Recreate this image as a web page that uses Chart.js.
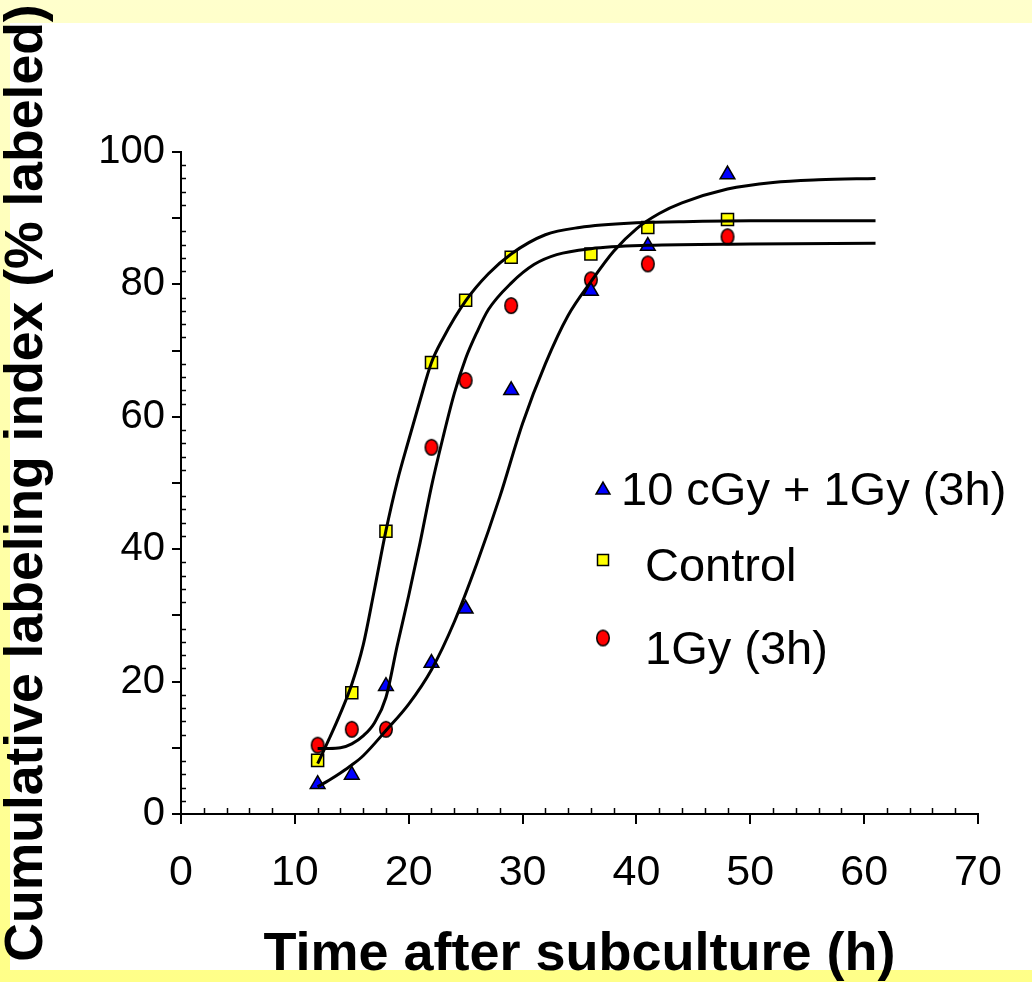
<!DOCTYPE html>
<html><head><meta charset="utf-8">
<script src="https://cdn.jsdelivr.net/npm/chart.js@4/dist/chart.umd.min.js"></script>
<style>html,body{margin:0;padding:0;background:#fff}#wrap{width:1032px;height:982px;position:relative}</style>
</head><body><div id="wrap"><canvas id="c" width="1032" height="982"></canvas></div>
<script>
// ---- data ----
const pointTimes = [12, 15, 18, 22, 25, 29, 36, 41, 48];
const combinedValues = [4.5, 5.9, 19.3, 22.8, 31.0, 64.0, 79.0, 85.8, 96.6];
const controlValues = [8.1, 18.3, 42.7, 68.2, 77.6, 84.1, 84.6, 88.6, 89.8];
const oneGyValues = [10.4, 12.8, 12.8, 55.4, 65.5, 76.8, 80.7, 83.1, 87.2];

const controlFitX = [12,13,14,15,16,17,18,19,20,21,22,23,25,27,29,32,35,40,45,50,55,61];
const controlFitY = [7.6,11.3,15.2,19.6,25.5,34,42.8,50.3,56.5,62.5,68.2,71.8,77.5,81.6,84.6,87.5,88.6,89.3,89.5,89.6,89.6,89.6];
const oneGyFitX = [12,13,14,15,16,17,18,19,20,21,22,23,24,25,26,27,29,31,33,36,41,50,61];
const oneGyFitY = [9.9,9.9,10,10.6,11.8,13.8,17.6,25.5,33,41,49.5,56.8,63.5,68.8,72.8,76.2,80.2,83,84.5,85.4,85.9,86.1,86.2];
const combinedFitX = [12,13,14,15,16,18,20,22,24,26,28,30,32,34,36,38,40,42,44,48,52,56,61];
const combinedFitY = [4.1,5.1,6.2,7.4,8.8,12.6,16.6,21.8,29,37.9,47.9,59,68,75.3,80.4,85,88.4,90.7,92.3,94.4,95.4,95.8,96];

const seriesLabels = ['10 cGy + 1Gy (3h)', 'Control', '1Gy (3h)'];
const xTickLabels = [0,10,20,30,40,50,60,70];
const yTickLabels = [0,20,40,60,80,100];

// ---- styles ----
const FONT = '"Liberation Sans", Arial, Helvetica, sans-serif';
Chart.defaults.font.family = FONT;
Chart.defaults.color = '#000';

function makeEllipse(w, h, fill) {
  const c = document.createElement('canvas');
  c.width = w + 4; c.height = h + 4;
  const g = c.getContext('2d');
  g.beginPath();
  g.ellipse(c.width / 2, c.height / 2, w / 2, h / 2, 0, 0, Math.PI * 2);
  g.fillStyle = fill; g.fill();
  g.lineWidth = 1.5; g.strokeStyle = '#000'; g.stroke();
  return c;
}
const redEllipse = makeEllipse(12.5, 15.5, '#ff0000');

const toXY = (xs, ys) => xs.map((x, i) => ({x, y: ys[i]}));

const scatterBase = {showLine: false, borderColor: '#000', borderWidth: 1.5, order: 2};
const lineBase = {showLine: true, pointRadius: 0, borderColor: '#000', borderWidth: 3,
  cubicInterpolationMode: 'monotone', fill: false, order: 1};

const bgPlugin = {
  id: 'bg',
  beforeDraw(chart) {
    const {ctx, width, height} = chart;
    ctx.save();
    const g = ctx.createLinearGradient(0, 0, 0, height);
    g.addColorStop(0, '#ffffcc');
    g.addColorStop(1, '#ffff88');
    ctx.fillStyle = g;
    ctx.fillRect(0, 0, width, height);
    ctx.fillStyle = '#ffffff';
    ctx.fillRect(10, 23, width - 10, 970 - 23);
    ctx.restore();
  }
};

const minorTicks = {
  id: 'minorTicks',
  afterDraw(chart) {
    const {ctx, scales: {x, y}, chartArea} = chart;
    ctx.save();
    ctx.strokeStyle = '#000';
    ctx.lineWidth = 1.5;
    for (let v = 2; v < 70; v += 2) {
      if (v % 10 === 0) continue;
      const px = Math.round(x.getPixelForValue(v)) + 0.5;
      ctx.beginPath(); ctx.moveTo(px, chartArea.bottom); ctx.lineTo(px, chartArea.bottom - 6); ctx.stroke();
    }
    for (let v = 2; v < 100; v += 2) {
      if (v % 10 === 0) continue;
      const py = Math.round(y.getPixelForValue(v)) + 0.5;
      ctx.beginPath(); ctx.moveTo(chartArea.left, py); ctx.lineTo(chartArea.left + 5, py); ctx.stroke();
    }
    ctx.restore();
  }
};

function drawMarker(ctx, kind, x, y) {
  ctx.save();
  ctx.lineWidth = 1.5; ctx.strokeStyle = '#000';
  if (kind === 'triangle') {
    const r = 8;
    ctx.beginPath();
    ctx.moveTo(x, y - r);
    ctx.lineTo(x + r * 0.866, y + r / 2);
    ctx.lineTo(x - r * 0.866, y + r / 2);
    ctx.closePath();
    ctx.fillStyle = '#0000ff'; ctx.fill(); ctx.stroke();
  } else if (kind === 'rect') {
    const s = 5.5;
    ctx.fillStyle = '#ffff00';
    ctx.fillRect(x - s, y - s, 2 * s, 2 * s);
    ctx.strokeRect(x - s, y - s, 2 * s, 2 * s);
  } else {
    ctx.drawImage(redEllipse, x - redEllipse.width / 2, y - redEllipse.height / 2);
  }
  ctx.restore();
}

const legendPlugin = {
  id: 'customLegend',
  afterDraw(chart) {
    const {ctx} = chart;
    const rows = [
      {kind: 'triangle', mx: 603, my: 490, tx: 621, ty: 492, text: seriesLabels[0]},
      {kind: 'rect', mx: 603, my: 560, tx: 645, ty: 568, text: seriesLabels[1]},
      {kind: 'circle', mx: 603, my: 638, tx: 645, ty: 651, text: seriesLabels[2]},
    ];
    ctx.save();
    ctx.font = '47px ' + FONT;
    ctx.fillStyle = '#000';
    ctx.textBaseline = 'middle';
    ctx.textAlign = 'left';
    for (const r of rows) {
      drawMarker(ctx, r.kind, r.mx, r.my);
      ctx.fillText(r.text, r.tx, r.ty);
    }
    ctx.restore();
  }
};

new Chart(document.getElementById('c'), {
  type: 'scatter',
  data: {
    datasets: [
      Object.assign({}, lineBase, {label: 'fit ' + seriesLabels[0], data: toXY(combinedFitX, combinedFitY)}),
      Object.assign({}, lineBase, {label: 'fit ' + seriesLabels[1], data: toXY(controlFitX, controlFitY)}),
      Object.assign({}, lineBase, {label: 'fit ' + seriesLabels[2], data: toXY(oneGyFitX, oneGyFitY)}),
      Object.assign({}, scatterBase, {label: seriesLabels[0], data: toXY(pointTimes, combinedValues),
        pointStyle: 'triangle', pointRadius: 8.5, backgroundColor: '#0000ff'}),
      Object.assign({}, scatterBase, {label: seriesLabels[1], data: toXY(pointTimes, controlValues),
        pointStyle: 'rect', pointRadius: 8.5, backgroundColor: '#ffff00'}),
      Object.assign({}, scatterBase, {label: seriesLabels[2], data: toXY(pointTimes, oneGyValues),
        pointStyle: redEllipse, backgroundColor: '#ff0000'}),
    ]
  },
  options: {
    responsive: false,
    devicePixelRatio: 1,
    animation: false,
    layout: {padding: {left: 0, right: 54, top: 152, bottom: 0}},
    plugins: {legend: {display: false}, tooltip: {enabled: false}},
    scales: {
      x: {
        type: 'linear', min: 0, max: 70,
        afterFit(s) { s.height = 168; },
        afterBuildTicks(s) { s.ticks = xTickLabels.map(v => ({value: v})); },
        ticks: {autoSkip: false, maxRotation: 0, padding: 23, color: '#000',
          font: {size: 43, lineHeight: 1.2}},
        grid: {display: true, drawOnChartArea: false, drawTicks: true, tickLength: 10,
          color: '#000', lineWidth: 2},
        border: {display: true, color: '#000', width: 2},
        title: {display: true, text: 'Time after subculture (h)', color: '#000',
          font: {size: 54, weight: 'bold', lineHeight: 1}, padding: {top: 0, bottom: 0}}
      },
      y: {
        type: 'linear', min: 0, max: 100,
        afterFit(s) { s.width = 181; },
        afterBuildTicks(s) {
          const t = [];
          for (let v = 0; v <= 100; v += 10) t.push({value: v});
          s.ticks = t;
        },
        ticks: {autoSkip: false, padding: 7, color: '#000', font: {size: 40},
          callback: v => (yTickLabels.includes(v) ? String(v) : '')},
        grid: {display: true, drawOnChartArea: false, drawTicks: true, tickLength: 9,
          color: '#000', lineWidth: 2},
        border: {display: true, color: '#000', width: 2},
        title: {display: true, text: 'Cumulative labeling index (% labeled)', color: '#000',
          font: {size: 53.5, weight: 'bold', lineHeight: 1}, padding: {top: 0, bottom: 0}}
      }
    }
  },
  plugins: [bgPlugin, minorTicks, legendPlugin]
});
</script>
</body></html>
